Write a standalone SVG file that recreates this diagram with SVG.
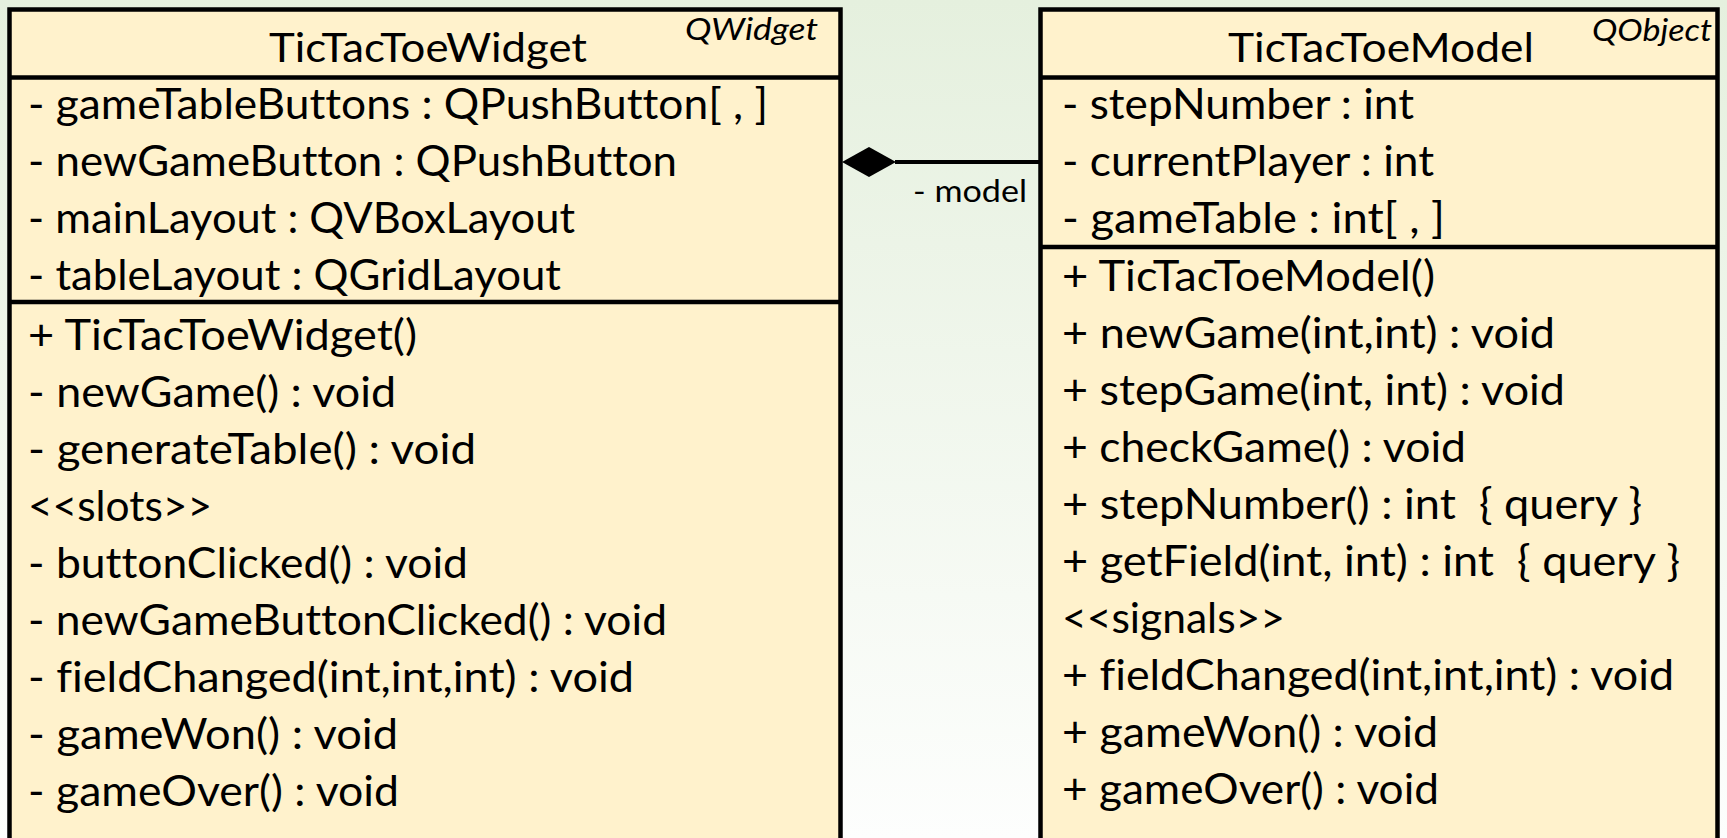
<svg xmlns="http://www.w3.org/2000/svg" width="1727" height="838" viewBox="0 0 1727 838">
  <defs>
    <linearGradient id="bg" x1="0" y1="0" x2="0" y2="1">
      <stop offset="0" stop-color="#e5f0de"/>
      <stop offset="1" stop-color="#fdfefd"/>
    </linearGradient>
    <style>
      text { font-family: Lato, "Open Sans", "Liberation Sans", sans-serif; fill: #000; font-variant-ligatures: none; }
      .box { fill: #fff2cc; stroke: #000; stroke-width: 4.5; }
      .rule { stroke: #000; stroke-width: 4.5; fill: none; }
      .txt { font-size: 42.5px; }
      .title { font-size: 41px; text-anchor: middle; }
      .stereo { font-size: 30px; font-style: italic; }
      .role { font-size: 31px; }
      .link { stroke: #000; stroke-width: 4; fill: none; }
    </style>
  </defs>

  <rect x="0" y="0" width="1727" height="838" fill="url(#bg)"/>

  <!-- TicTacToeWidget class -->
  <g id="node-widget">
    <rect class="box" x="9.5" y="9.5" width="831" height="860"/>
    <line class="rule" x1="9.5" y1="77.5" x2="840.5" y2="77.5"/>
    <line class="rule" x1="9.5" y1="302" x2="840.5" y2="302"/>
    <text class="title" x="428" y="62" textLength="318" lengthAdjust="spacingAndGlyphs">TicTacToeWidget</text>
    <text class="stereo" x="685" y="40" textLength="133" lengthAdjust="spacingAndGlyphs">QWidget</text>
    <text class="txt" x="28" y="119" textLength="740" lengthAdjust="spacingAndGlyphs">- gameTableButtons : QPushButton[ , ]</text>
    <text class="txt" x="28" y="176" textLength="649" lengthAdjust="spacingAndGlyphs">- newGameButton : QPushButton</text>
    <text class="txt" x="28" y="233" textLength="547" lengthAdjust="spacingAndGlyphs">- mainLayout : QVBoxLayout</text>
    <text class="txt" x="28" y="290" textLength="533" lengthAdjust="spacingAndGlyphs">- tableLayout : QGridLayout</text>
    <text class="txt" x="28" y="350" textLength="389" lengthAdjust="spacingAndGlyphs">+ TicTacToeWidget()</text>
    <text class="txt" x="28" y="407" textLength="368" lengthAdjust="spacingAndGlyphs">- newGame() : void</text>
    <text class="txt" x="28" y="464" textLength="448" lengthAdjust="spacingAndGlyphs">- generateTable() : void</text>
    <text class="txt" x="28" y="521" textLength="184" lengthAdjust="spacingAndGlyphs">&lt;&lt;slots&gt;&gt;</text>
    <text class="txt" x="28" y="578" textLength="440" lengthAdjust="spacingAndGlyphs">- buttonClicked() : void</text>
    <text class="txt" x="28" y="635" textLength="639" lengthAdjust="spacingAndGlyphs">- newGameButtonClicked() : void</text>
    <text class="txt" x="28" y="692" textLength="606" lengthAdjust="spacingAndGlyphs">- fieldChanged(int,int,int) : void</text>
    <text class="txt" x="28" y="749" textLength="370" lengthAdjust="spacingAndGlyphs">- gameWon() : void</text>
    <text class="txt" x="28" y="806" textLength="371" lengthAdjust="spacingAndGlyphs">- gameOver() : void</text>
  </g>

  <!-- TicTacToeModel class -->
  <g id="node-model">
    <rect class="box" x="1040.5" y="9.5" width="677" height="860"/>
    <line class="rule" x1="1040.5" y1="77.5" x2="1717.5" y2="77.5"/>
    <line class="rule" x1="1040.5" y1="247" x2="1717.5" y2="247"/>
    <text class="title" x="1381" y="62" textLength="306" lengthAdjust="spacingAndGlyphs">TicTacToeModel</text>
    <text class="stereo" x="1592" y="41" textLength="120" lengthAdjust="spacingAndGlyphs">QObject</text>
    <text class="txt" x="1062" y="119" textLength="352" lengthAdjust="spacingAndGlyphs">- stepNumber : int</text>
    <text class="txt" x="1062" y="176" textLength="372" lengthAdjust="spacingAndGlyphs">- currentPlayer : int</text>
    <text class="txt" x="1062" y="233" textLength="383" lengthAdjust="spacingAndGlyphs">- gameTable : int[ , ]</text>
    <text class="txt" x="1062" y="291" textLength="373" lengthAdjust="spacingAndGlyphs">+ TicTacToeModel()</text>
    <text class="txt" x="1062" y="348" textLength="493" lengthAdjust="spacingAndGlyphs">+ newGame(int,int) : void</text>
    <text class="txt" x="1062" y="405" textLength="503" lengthAdjust="spacingAndGlyphs">+ stepGame(int, int) : void</text>
    <text class="txt" x="1062" y="462" textLength="404" lengthAdjust="spacingAndGlyphs">+ checkGame() : void</text>
    <text class="txt" x="1062" y="519" textLength="580" lengthAdjust="spacingAndGlyphs" xml:space="preserve">+ stepNumber() : int  { query }</text>
    <text class="txt" x="1062" y="576" textLength="618" lengthAdjust="spacingAndGlyphs" xml:space="preserve">+ getField(int, int) : int  { query }</text>
    <text class="txt" x="1062" y="633" textLength="223" lengthAdjust="spacingAndGlyphs">&lt;&lt;signals&gt;&gt;</text>
    <text class="txt" x="1062" y="690" textLength="612" lengthAdjust="spacingAndGlyphs">+ fieldChanged(int,int,int) : void</text>
    <text class="txt" x="1062" y="747" textLength="376" lengthAdjust="spacingAndGlyphs">+ gameWon() : void</text>
    <text class="txt" x="1062" y="804" textLength="377" lengthAdjust="spacingAndGlyphs">+ gameOver() : void</text>
  </g>

  <!-- composition: widget owns the model -->
  <g id="connectors">
    <line class="link" x1="895" y1="162" x2="1040" y2="162"/>
    <polygon points="842,162 869,147 896,162 869,177" fill="#000"/>
    <text class="role" x="913" y="202" textLength="114" lengthAdjust="spacingAndGlyphs">- model</text>
  </g>
</svg>
